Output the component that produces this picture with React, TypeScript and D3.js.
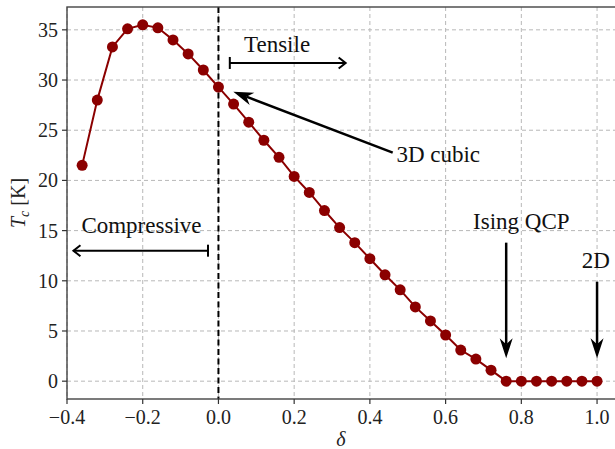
import React from "react";
import * as d3 from "d3";

const delta = [
  -0.36, -0.32, -0.28, -0.24, -0.2, -0.16, -0.12, -0.08, -0.04, 0.0, 0.04, 0.08,
  0.12, 0.16, 0.2, 0.24, 0.28, 0.32, 0.36, 0.4, 0.44, 0.48, 0.52, 0.56, 0.6, 0.64,
  0.68, 0.72, 0.76, 0.8, 0.84, 0.88, 0.92, 0.96, 1.0,
];
const tc = [
  21.5, 28.0, 33.3, 35.1, 35.5, 35.2, 34.0, 32.6, 31.0, 29.3, 27.6, 25.8,
  24.0, 22.3, 20.4, 18.8, 17.0, 15.3, 13.8, 12.2, 10.6, 9.1, 7.4, 6.0, 4.6, 3.1,
  2.2, 1.1, 0, 0, 0, 0, 0, 0, 0,
];
const xTicks = [-0.4, -0.2, 0.0, 0.2, 0.4, 0.6, 0.8, 1.0];
const yTicks = [0, 5, 10, 15, 20, 25, 30, 35];

const W = 615;
const H = 449;

const x = d3.scaleLinear().domain([-0.4, 1.068]).range([67, 622.8]);
const y = d3.scaleLinear().domain([-1.775, 37.275]).range([399, 7]);

function fmtX(v: number) {
  const s = Math.abs(v).toFixed(1);
  return v < 0 ? "\u2212" + s : s;
}

function BarArrow({ x0, x1, yv }: { x0: number; x1: number; yv: number }) {
  const px0 = x(x0), px1 = x(x1), py = y(yv);
  const dir = Math.sign(px1 - px0);
  const hl = 7, hw = 5.5;
  return (
    <g stroke="#000" strokeWidth={2} fill="none">
      <line x1={px0} y1={py} x2={px1} y2={py} />
      <line x1={px0} y1={py - 6} x2={px0} y2={py + 6} />
      <polyline points={`${px1 - dir * hl},${py - hw} ${px1},${py} ${px1 - dir * hl},${py + hw}`} strokeLinejoin="miter" />
    </g>
  );
}

function Stealth({ x0, y0, x1, y1 }: { x0: number; y0: number; x1: number; y1: number }) {
  const ax = x(x0), ay = y(y0), bx = x(x1), by = y(y1);
  const dx = bx - ax, dy = by - ay;
  const len = Math.hypot(dx, dy);
  const ux = dx / len, uy = dy / len;
  const nx = -uy, ny = ux;
  const hl = 20, hw = 6.5, notch = 6;
  const baseX = bx - ux * hl, baseY = by - uy * hl;
  const nX = bx - ux * (hl - notch), nY = by - uy * (hl - notch);
  const pts = [
    [bx, by],
    [baseX + nx * hw, baseY + ny * hw],
    [nX, nY],
    [baseX - nx * hw, baseY - ny * hw],
  ];
  return (
    <g>
      <line x1={ax} y1={ay} x2={nX} y2={nY} stroke="#000" strokeWidth={2.5} />
      <polygon points={pts.map((p) => p.join(",")).join(" ")} fill="#000" />
    </g>
  );
}

export default function App() {
  const line = d3
    .line<number>()
    .x((_, i) => x(delta[i]))
    .y((d) => y(d));

  const left = 67, right = 622.8, top = 7, bottom = 399;

  return (
    <svg width={W} height={H} className="chart" style={{ position: "absolute", left: 0, top: 0 }}>
      <style>{`.chart text, .chart tspan { font-family: 'Liberation Serif' !important; }`}</style>
      <defs>
        <clipPath id="plot">
          <rect x={left} y={top} width={right - left} height={bottom - top} />
        </clipPath>
      </defs>
      <rect x={0} y={0} width={W} height={H} fill="#fff" />
      <g stroke="#b8b8b8" strokeWidth={1} strokeDasharray="4,3">
        {xTicks.map((t) => (
          <line key={"gx" + t} x1={x(t)} x2={x(t)} y1={top} y2={bottom} />
        ))}
        {yTicks.map((t) => (
          <line key={"gy" + t} x1={left} x2={right} y1={y(t)} y2={y(t)} />
        ))}
      </g>
      <line x1={x(0)} x2={x(0)} y1={top} y2={bottom} stroke="#000" strokeWidth={2} strokeDasharray="6,3.5" />
      <g clipPath="url(#plot)">
        <path d={line(tc) || ""} fill="none" stroke="#8b0000" strokeWidth={2} />
        {tc.map((v, i) => (
          <circle key={i} cx={x(delta[i])} cy={y(v)} r={5.5} fill="#8b0000" />
        ))}
      </g>
      <rect x={left} y={top} width={right - left} height={bottom - top} fill="none" stroke="#444" strokeWidth={1.4} />
      <g stroke="#333" strokeWidth={1.2}>
        {xTicks.map((t) => (
          <line key={"tx" + t} x1={x(t)} x2={x(t)} y1={bottom} y2={bottom + 5} />
        ))}
        {yTicks.map((t) => (
          <line key={"ty" + t} x1={left - 5} x2={left} y1={y(t)} y2={y(t)} />
        ))}
      </g>
      {xTicks.map((t) => (
        <text key={"lx" + t} x={x(t)} y={424} fontSize={20} fill="#222" textAnchor="middle">
          {fmtX(t)}
        </text>
      ))}
      {yTicks.map((t) => (
        <text key={"ly" + t} x={58} y={y(t) + 7} fontSize={20} fill="#222" textAnchor="end">
          {t}
        </text>
      ))}
      <text x={341} y={446} fontSize={20} fontStyle="italic" textAnchor="middle" fill="#222">
        δ
      </text>
      <text transform={`translate(25,${(top + bottom) / 2}) rotate(-90)`} fontSize={20} textAnchor="middle" fill="#222">
        <tspan fontStyle="italic">T</tspan>
        <tspan fontStyle="italic" fontSize={14} dy={4}>c</tspan>
        <tspan dy={-4}> [K]</tspan>
      </text>
      <text x={x(0.0675)} y={y(32.8)} fontSize={23} fill="#111">Tensile</text>
      <text x={x(-0.362)} y={y(14.8)} fontSize={23} fill="#111">Compressive</text>
      <text x={x(0.47)} y={y(21.86)} fontSize={23} fill="#111">3D cubic</text>
      <text x={x(0.8)} y={y(15.13)} fontSize={23} fill="#111" textAnchor="middle">Ising QCP</text>
      <text x={x(0.997)} y={y(11.25)} fontSize={23} fill="#111" textAnchor="middle">2D</text>
      <BarArrow x0={0.03} x1={0.336} yv={31.7} />
      <BarArrow x0={-0.0276} x1={-0.383} yv={13.0} />
      <Stealth x0={0.4603} y0={22.76} x1={0.0393} y1={28.84} />
      <Stealth x0={0.76} y0={13.8} x1={0.76} y1={2.28} />
      <Stealth x0={1.0} y0={9.91} x1={1.0} y1={2.28} />
    </svg>
  );
}
